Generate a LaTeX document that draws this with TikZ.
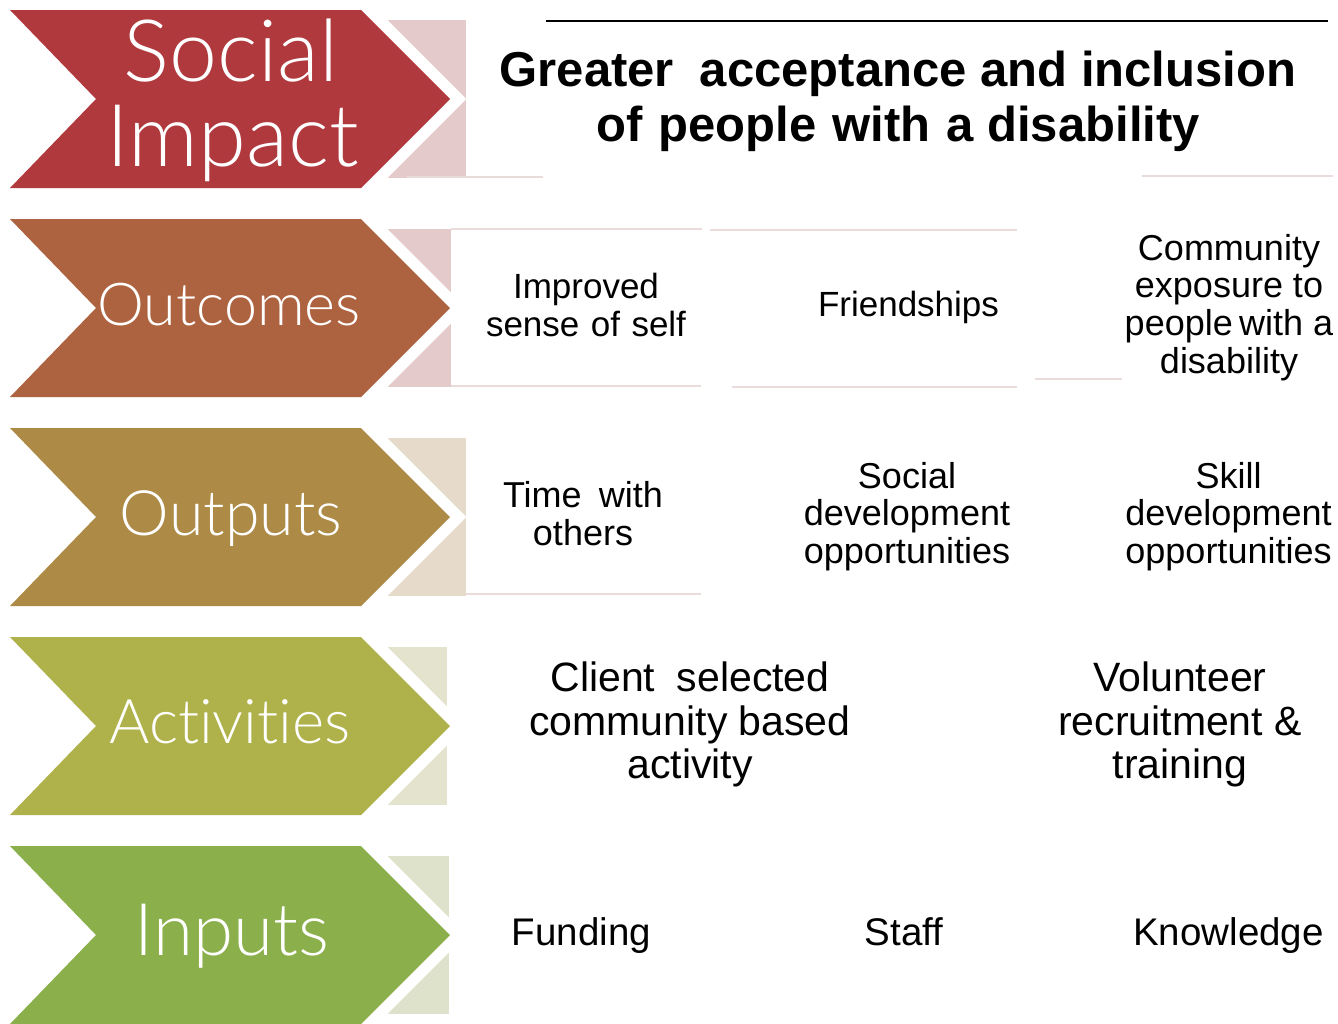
\documentclass[tikz,border=0pt]{standalone}
\usepackage{fontspec}
\setmainfont{Liberation Sans}
\IfFontExistsTF{Lato Light}{\newfontfamily\lightfont[Ligatures=NoCommon]{Lato Light}}{\newfontfamily\lightfont[Ligatures=NoCommon]{Lato}}

% chevron fills
\definecolor{cRed}{HTML}{B0393E}
\definecolor{cBrown}{HTML}{AE6340}
\definecolor{cGold}{HTML}{AD8A45}
\definecolor{cOlive}{HTML}{AFB24A}
\definecolor{cGreen}{HTML}{8BB04B}
% pale blocks behind the chevron tips
\definecolor{lRed}{HTML}{E5CACB}
\definecolor{lGold}{HTML}{E6DACB}
\definecolor{lOlive}{HTML}{E4E3CE}
\definecolor{lGreen}{HTML}{DFE2CB}
% faint box edges
\definecolor{lineC}{HTML}{EBDCDC}

% invisible strut fixing the top of a first text line
\newcommand{\ls}{\vrule width 0pt height .75em depth 0pt\relax}
\newcommand{\chevlabel}[2]{\resizebox{#1}{!}{\lightfont #2}}

\begin{document}
\begin{tikzpicture}[x=1pt,y=-1pt,
  band/.style={draw=white, line width=23pt, line join=miter, miter limit=10},
  rowtext/.style={inner sep=0pt, align=center, text=black},
  chevtext/.style={inner sep=0pt, anchor=base, text=white},
  faint/.style={draw=lineC, line width=2pt}]
\useasboundingbox (0,0) rectangle (1338,1023);

% five chevrons, each with a pale block cut by a white band
\foreach \t/\fc/\lc/\rx in {10/cRed/lRed/466, 219/cBrown/lRed/451, 428/cGold/lGold/466, 637/cOlive/lOlive/447, 846/cGreen/lGreen/449}{
  \fill[\lc] (388,\t+10) rectangle (\rx,\t+168);
  \path[band] (10,\t) -- (361,\t) -- (450,\t+89) -- (361,\t+178) -- (10,\t+178) -- (96,\t+89) -- cycle;
  \fill[\fc] (10,\t) -- (361,\t) -- (450,\t+89) -- (361,\t+178) -- (10,\t+178) -- (96,\t+89) -- cycle;
}

% chevron labels
\node[chevtext] (social) at (231,81) {\chevlabel{214pt}{Social}};
\node[chevtext] (impact) at (233,166) {\chevlabel{252pt}{Impact}};
\node[chevtext] (outcomes) at (229,325) {\chevlabel{263pt}{Outcomes}};
\node[chevtext] (outputs) at (231,535) {\chevlabel{222pt}{Outputs}};
\node[chevtext] (activities) at (230,743) {\chevlabel{241pt}{Activities}};
\node[chevtext] (inputs) at (232,955) {\chevlabel{194pt}{Inputs}};

% rules and faint box edges
\draw[line width=2pt] (546,20.5) -- (1328,20.5);
\draw[faint] (407,177) -- (543,177);
\draw[faint] (1142,176) -- (1333,176);
\draw[faint] (451,229) -- (702,229);
\draw[faint] (710,230) -- (1017,230);
\draw[faint] (451,386) -- (701,386);
\draw[faint] (732,387) -- (1017,387);
\draw[faint] (1035,379) -- (1122,379);
\draw[faint] (466,594) -- (701,594);

% social impact
\node[rowtext, anchor=north, font=\bfseries\fontsize{49}{55}\selectfont] (goal) at (898,49.25)
  {\ls Greater\hspace{.25em} acceptance and inclusion\\of\hspace{.05em} people\hspace{.05em} with\hspace{.05em} a disability};

% outcomes
\node[rowtext, anchor=north, font=\fontsize{35}{38.5}\selectfont] (self) at (586,271.75)
  {\ls Improved\\sense\hspace{.05em} of\hspace{.05em} self};
\node[rowtext, anchor=base, font=\fontsize{35}{38}\selectfont] (friends) at (908.5,316) {Friendships};
\node[rowtext, anchor=north, font=\fontsize{36}{37.7}\selectfont] (exposure) at (1229,233)
  {\ls Community\\exposure to\\people\hspace{-.1em} with a\\disability};

% outputs
\node[rowtext, anchor=north, font=\fontsize{36}{38}\selectfont] (time) at (583,480)
  {\ls Time\hspace{.2em} with\\others};
\node[rowtext, anchor=north, font=\fontsize{36}{37.5}\selectfont] (socdev) at (907,461)
  {\ls Social\\development\\opportunities};
\node[rowtext, anchor=north, font=\fontsize{36}{37.5}\selectfont] (skilldev) at (1228.5,461)
  {\ls Skill\\development\\opportunities};

% activities
\node[rowtext, anchor=north, font=\fontsize{41}{43.5}\selectfont] (client) at (690,661)
  {\ls Client\hspace{.25em} selected\\community based\\activity};
\node[rowtext, anchor=north, font=\fontsize{41}{43.5}\selectfont] (volunteer) at (1180,661)
  {\ls Volunteer\\recruitment \&\\training};

% inputs
\node[rowtext, anchor=base, font=\fontsize{38.5}{43}\selectfont] (funding) at (581.5,945) {Funding};
\node[rowtext, anchor=base, font=\fontsize{38.5}{43}\selectfont] (staff) at (904,945) {Staff};
\node[rowtext, anchor=base, font=\fontsize{38.5}{43}\selectfont] (knowledge) at (1228.5,945) {Knowledge};
\end{tikzpicture}
\end{document}
